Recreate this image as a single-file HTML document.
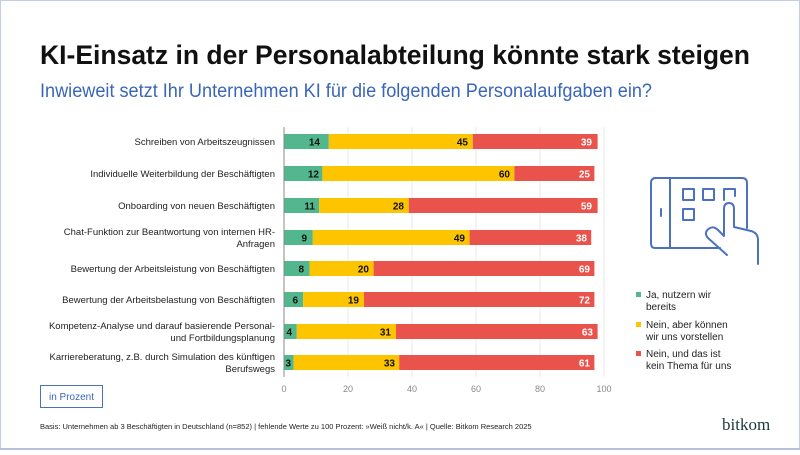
<!DOCTYPE html>
<html><head><meta charset="utf-8"><style>
body{margin:0;width:800px;height:450px;overflow:hidden;background:#fff;font-family:"Liberation Sans",sans-serif}
</style></head><body>
<svg width="800" height="450" xmlns="http://www.w3.org/2000/svg" font-family="Liberation Sans, sans-serif">
<rect x="0.5" y="0.5" width="799" height="448" fill="#fff" stroke="#c5cde6" stroke-width="1"/>
<line x1="0" y1="449" x2="800" y2="449" stroke="#b8c2e0" stroke-width="2"/>
<text x="40" y="64" font-size="27" font-weight="bold" fill="#111" textLength="710" lengthAdjust="spacingAndGlyphs">KI-Einsatz in der Personalabteilung könnte stark steigen</text>
<text x="40" y="97" font-size="19" fill="#3a66b8" textLength="612" lengthAdjust="spacingAndGlyphs">Inwieweit setzt Ihr Unternehmen KI für die folgenden Personalaufgaben ein?</text>
<g stroke="#e8e8e8" stroke-width="1">
<line x1="348" y1="127" x2="348" y2="377"/><line x1="412" y1="127" x2="412" y2="377"/>
<line x1="476" y1="127" x2="476" y2="377"/><line x1="540" y1="127" x2="540" y2="377"/>
<line x1="604" y1="127" x2="604" y2="377"/>
</g>
<g font-size="9" fill="#888" text-anchor="middle">
<text x="284" y="392">0</text><text x="348" y="392">20</text><text x="412" y="392">40</text><text x="476" y="392">60</text><text x="540" y="392">80</text><text x="604" y="392">100</text>
</g>
<g font-size="9.5" fill="#222" text-anchor="end">
<text x="275" y="145">Schreiben von Arbeitszeugnissen</text>
<text x="275" y="177">Individuelle Weiterbildung der Beschäftigten</text>
<text x="275" y="209">Onboarding von neuen Beschäftigten</text>
<text x="275" y="235">Chat-Funktion zur Beantwortung von internen HR-</text>
<text x="275" y="247">Anfragen</text>
<text x="275" y="272">Bewertung der Arbeitsleistung von Beschäftigten</text>
<text x="275" y="303">Bewertung der Arbeitsbelastung von Beschäftigten</text>
<text x="275" y="329">Kompetenz-Analyse und darauf basierende Personal-</text>
<text x="275" y="341">und Fortbildungsplanung</text>
<text x="275" y="360">Karriereberatung, z.B. durch Simulation des künftigen</text>
<text x="275" y="372">Berufswegs</text>
</g>
<g font-size="10" font-weight="bold">
<g transform="translate(0,134)">
<rect x="284" width="44.8" height="15" fill="#52b78c"/><rect x="328.8" width="144" height="15" fill="#fdc500"/><rect x="472.8" width="124.8" height="15" fill="#e9534b"/>
<text x="320" y="11.5" text-anchor="end" fill="#111">14</text><text x="468" y="11.5" text-anchor="end" fill="#111">45</text><text x="592" y="11.5" text-anchor="end" fill="#fff">39</text></g>
<g transform="translate(0,166)">
<rect x="284" width="38.4" height="15" fill="#52b78c"/><rect x="322.4" width="192" height="15" fill="#fdc500"/><rect x="514.4" width="80" height="15" fill="#e9534b"/>
<text x="319" y="11.5" text-anchor="end" fill="#111">12</text><text x="510" y="11.5" text-anchor="end" fill="#111">60</text><text x="590" y="11.5" text-anchor="end" fill="#fff">25</text></g>
<g transform="translate(0,198)">
<rect x="284" width="35.2" height="15" fill="#52b78c"/><rect x="319.2" width="89.6" height="15" fill="#fdc500"/><rect x="408.8" width="188.8" height="15" fill="#e9534b"/>
<text x="315" y="11.5" text-anchor="end" fill="#111">11</text><text x="404" y="11.5" text-anchor="end" fill="#111">28</text><text x="592" y="11.5" text-anchor="end" fill="#fff">59</text></g>
<g transform="translate(0,230)">
<rect x="284" width="28.8" height="15" fill="#52b78c"/><rect x="312.8" width="156.8" height="15" fill="#fdc500"/><rect x="469.6" width="121.6" height="15" fill="#e9534b"/>
<text x="307" y="11.5" text-anchor="end" fill="#111">9</text><text x="465" y="11.5" text-anchor="end" fill="#111">49</text><text x="587" y="11.5" text-anchor="end" fill="#fff">38</text></g>
<g transform="translate(0,261)">
<rect x="284" width="25.6" height="15" fill="#52b78c"/><rect x="309.6" width="64" height="15" fill="#fdc500"/><rect x="373.6" width="220.8" height="15" fill="#e9534b"/>
<text x="304" y="11.5" text-anchor="end" fill="#111">8</text><text x="369" y="11.5" text-anchor="end" fill="#111">20</text><text x="590" y="11.5" text-anchor="end" fill="#fff">69</text></g>
<g transform="translate(0,292)">
<rect x="284" width="19.2" height="15" fill="#52b78c"/><rect x="303.2" width="60.8" height="15" fill="#fdc500"/><rect x="364" width="230.4" height="15" fill="#e9534b"/>
<text x="298" y="11.5" text-anchor="end" fill="#111">6</text><text x="359" y="11.5" text-anchor="end" fill="#111">19</text><text x="590" y="11.5" text-anchor="end" fill="#fff">72</text></g>
<g transform="translate(0,324)">
<rect x="284" width="12.8" height="15" fill="#52b78c"/><rect x="296.8" width="99.2" height="15" fill="#fdc500"/><rect x="396" width="201.6" height="15" fill="#e9534b"/>
<text x="292" y="11.5" text-anchor="end" fill="#111">4</text><text x="391" y="11.5" text-anchor="end" fill="#111">31</text><text x="593" y="11.5" text-anchor="end" fill="#fff">63</text></g>
<g transform="translate(0,355)">
<rect x="284" width="9.6" height="15" fill="#52b78c"/><rect x="293.6" width="105.6" height="15" fill="#fdc500"/><rect x="399.2" width="195.2" height="15" fill="#e9534b"/>
<text x="291" y="11.5" text-anchor="end" fill="#111">3</text><text x="395" y="11.5" text-anchor="end" fill="#111">33</text><text x="590" y="11.5" text-anchor="end" fill="#fff">61</text></g>
</g>
<line x1="284" y1="127" x2="284" y2="377" stroke="#888" stroke-width="1"/>
<g fill="none" stroke="#4a72c0" stroke-width="2" stroke-linecap="round" stroke-linejoin="round">
<path d="M654 178 H742 Q747 178 747 183 V228 M720 248 H655 Q651 248 651 243 V183 Q651 178 656 178"/>
<line x1="670" y1="178" x2="670" y2="248"/>
<line x1="661" y1="209" x2="661" y2="216"/>
<rect x="683" y="189" width="11" height="11"/><rect x="703" y="189" width="11" height="11"/>
<path d="M724 200 V189 H735 V196"/>
<rect x="683" y="209" width="11" height="11"/>
<path d="M727 255 L708 238 Q703 232 710 228 Q714 226 718 230 L724 236 V209 Q724 203 729 203 Q734 203 734 209 V227 L751 231 Q758 233 758 240 L758 264"/>
</g>
<g font-size="10" fill="#222">
<rect x="636" y="292" width="5" height="5" fill="#52b78c"/><text x="646" y="298">Ja, nutzern wir</text><text x="646" y="310">bereits</text>
<rect x="636" y="322" width="5" height="5" fill="#fdc500"/><text x="646" y="328">Nein, aber können</text><text x="646" y="340">wir uns vorstellen</text>
<rect x="636" y="351" width="5" height="5" fill="#e9534b"/><text x="646" y="357">Nein, und das ist</text><text x="646" y="369">kein Thema für uns</text>
</g>
<rect x="40.5" y="385.5" width="62" height="22" fill="#fff" stroke="#4a72c0"/>
<text x="71.5" y="400" font-size="10" fill="#3a66b8" text-anchor="middle">in Prozent</text>
<text x="40" y="429" font-size="7.5" fill="#222">Basis: Unternehmen ab 3 Beschäftigten in Deutschland (n=852) | fehlende Werte zu 100 Prozent: »Weiß nicht/k. A« | Quelle: Bitkom Research 2025</text>
<text x="722" y="430" font-size="17" fill="#1c3a3a" font-family="Liberation Serif, serif">bitkom</text>
</svg>
</body></html>
